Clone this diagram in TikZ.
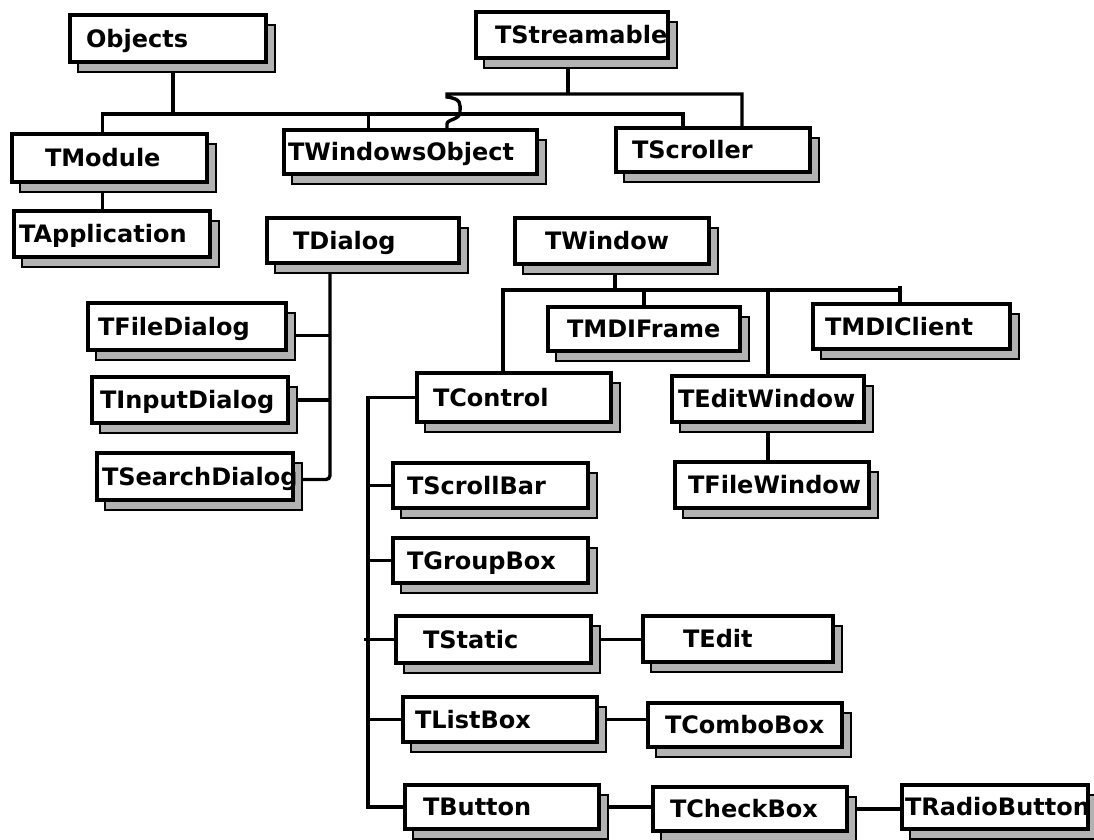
\documentclass[tikz,border=0pt]{standalone}
\usepackage{fontspec}
\setmainfont{DejaVu Sans}
\usetikzlibrary{backgrounds,calc}

\tikzset{
  cls/.style={draw=black, line width=3.6pt, fill=white, inner xsep=0pt,
    inner ysep=0pt, outer sep=0pt, text height=17pt, text depth=0pt,
    font=\bfseries\fontsize{24}{28}\selectfont, anchor=north west},
  shadebox/.style={fill=black!30, draw=black, line width=1.8pt},
  link/.style={draw=black, line width=3.4pt},
}

% class box: name, x1, y1, x2, y2, text start x, label
\newcommand\classbox[7]{%
  \pgfmathsetmacro\bw{#4-#2}%
  \pgfmathsetmacro\bh{#5-#3}%
  \pgfmathsetmacro\bp{#6-#2}%
  \path[shadebox] (#2+8,#3+10) rectangle (#4+9,#5+10);
  \node[cls, minimum width=\bw pt, minimum height=\bh pt] (#1) at (#2,#3)
    {\makebox[\bw pt][l]{\hspace*{\bp pt}#7}};
}

\begin{document}
\begin{tikzpicture}[x=1pt, y=-1pt]
\useasboundingbox (0,0) rectangle (1094,839);

\begin{scope}
\clip (0,0) rectangle (1094,839);
\classbox{Objects}{70}{15}{266}{62}{86}{Objects}
\classbox{TStreamable}{476}{12}{668}{58}{495}{TStreamable}
\classbox{TModule}{12}{134}{207}{182}{45}{TModule}
\classbox{TWindowsObject}{284}{130}{537}{174}{288}{TWindowsObject}
\classbox{TScroller}{616}{128}{810}{172}{632}{TScroller}
\classbox{TApplication}{14}{211}{210}{257}{19}{TApplication}
\classbox{TDialog}{267}{218}{459}{263}{293}{TDialog}
\classbox{TWindow}{515}{218}{709}{264}{545}{TWindow}
\classbox{TFileDialog}{88}{303}{286}{350}{98}{TFileDialog}
\classbox{TInputDialog}{92}{377}{288}{423}{100}{TInputDialog}
\classbox{TSearchDialog}{97}{453}{293}{500}{102}{TSearchDialog}
\classbox{TMDIFrame}{548}{307}{740}{351}{567}{TMDIFrame}
\classbox{TMDIClient}{813}{304}{1010}{349}{825}{TMDIClient}
\classbox{TControl}{417}{373}{611}{422}{433}{TControl}
\classbox{TEditWindow}{672}{376}{864}{422}{678}{TEditWindow}
\classbox{TFileWindow}{675}{462}{869}{508}{688}{TFileWindow}
\classbox{TScrollBar}{393}{463}{588}{508}{407}{TScrollBar}
\classbox{TGroupBox}{393}{538}{588}{583}{407}{TGroupBox}
\classbox{TStatic}{396}{616}{591}{663}{423}{TStatic}
\classbox{TEdit}{643}{616}{833}{662}{683}{TEdit}
\classbox{TListBox}{403}{697}{597}{742}{415}{TListBox}
\classbox{TComboBox}{648}{703}{842}{747}{665}{TComboBox}
\classbox{TButton}{405}{785}{599}{829}{423}{TButton}
\classbox{TCheckBox}{653}{787}{847}{831}{670}{TCheckBox}
\classbox{TRadioButton}{902}{785}{1088}{829}{905}{TRadioButton}
\end{scope}

% bus junctions
\coordinate (ob) at (173,114);
\coordinate (st) at (568,94);
\coordinate (sj) at (447,94);
\coordinate (tw) at (615,290);
\coordinate (cb) at (368,807);
\coordinate (dv) at ([xshift=-33pt]TDialog.south);
\coordinate (fd) at ([yshift=-9pt]TFileDialog.east);
\coordinate (sd) at ([yshift=-3pt]TSearchDialog.east);

\begin{pgfonlayer}{background}
\fill[white] (0,0) rectangle (1094,839);

% Objects and TStreamable hierarchies
\draw[link] ([xshift=5pt]Objects.south) -- (ob);
\draw[link] ([xshift=-7pt]TModule.north) |- (ob) -| ([xshift=-30pt]TScroller.north);
\draw[link] ([xshift=-42pt]TWindowsObject.north) |- (ob);
\draw[link] ([xshift=-4pt]TStreamable.south) -- (st);
\draw[link] ([xshift=29pt]TScroller.north) |- (sj) -- ($(sj)+(0,3)$)
  .. controls ($(sj)+(15,5)$) and ($(sj)+(13,10)$) .. ($(sj)+(13,18)$)
  .. controls ($(sj)+(13,26)$) and ($(sj)+(0,25)$) .. ($(sj)+(0,30)$)
  -- ([xshift=36.5pt]TWindowsObject.north);
\draw[link] ([xshift=-7pt]TModule.south) -- ([xshift=-7pt]TModule.south |- TApplication.north);

% dialogs
\draw[link, rounded corners=4pt] (dv) |- (sd);
\draw[link] (fd) -- (fd -| dv);
\draw[link] (TInputDialog.east) -- (TInputDialog.east -| dv);

% windows
\draw[link] ([xshift=3pt]TWindow.south) -- (tw);
\draw[link] ([xshift=-11pt]TControl.north) |- (tw) -| ([xshift=-11.5pt]TMDIClient.north);
\draw[link] ([xshift=-11.5pt]TMDIClient.north) -- ++(0,-18);
\draw[link] (TMDIFrame.north) -- (TMDIFrame.north |- tw);
\draw[link] (TEditWindow.north) -- (TEditWindow.north |- tw);
\draw[link] (TEditWindow.south) -- (TEditWindow.south |- TFileWindow.north);

% controls
\draw[link] (TControl.west) -| (cb) -- (TButton.west);
\draw[link] (TScrollBar.west) -- (TScrollBar.west -| cb);
\draw[link] (TGroupBox.west) -- (TGroupBox.west -| cb);
\draw[link] (TStatic.west) -- ([xshift=-4pt]TStatic.west -| cb);
\draw[link] (TListBox.west) -- (TListBox.west -| cb);
\draw[link] (TStatic.east) -- (TStatic.east -| TEdit.west);
\draw[link] (TListBox.east) -- (TListBox.east -| TComboBox.west);
\draw[link] (TButton.east) -- (TButton.east -| TCheckBox.west);
\draw[link] (TCheckBox.east) -- (TCheckBox.east -| TRadioButton.west);
\end{pgfonlayer}
\end{tikzpicture}
\end{document}
